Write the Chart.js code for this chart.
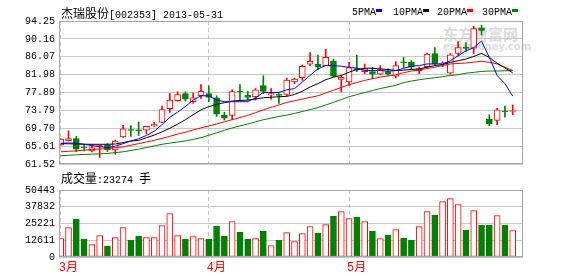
<!DOCTYPE html>
<html lang="zh-CN">
<head>
<meta charset="UTF-8">
<title>杰瑞股份 日K线</title>
<script src="https://cdn.jsdelivr.net/npm/chart.js"></script>
<style>
  html, body { margin: 0; padding: 0; background: #fff; }
  #wrap { position: relative; width: 578px; height: 276px; overflow: hidden;
          font-family: "Liberation Mono", "Noto Sans CJK SC", monospace; font-size: 10px; color: #000; }
  canvas { position: absolute; left: 0; display: block; }
  #kline { top: 0; }
  #vol { top: 176px; }
  .cjk { font-family: "Noto Sans CJK SC", sans-serif; font-size: 12px; }
  .txt { position: absolute; white-space: nowrap; line-height: 14px; }
  #title { left: 61px; top: 6px; }
  #volTitle { left: 61px; top: 171px; }
  .key { position: absolute; top: 6px; white-space: nowrap; line-height: 14px; }
  .key i { display: inline-block; width: 6px; height: 3px; vertical-align: 3px; }
  #wm { position: absolute; left: 443px; top: 25px; color: #dcdcdc; font-family: "Noto Sans CJK SC", sans-serif; }
  #wm .a { font-size: 15px; font-weight: bold; line-height: 17px; }
  #wm .b { font-size: 10px; font-weight: bold; line-height: 9px; font-family: "DejaVu Sans", sans-serif; }
</style>
</head>
<body>
<div id="wrap">
  <div id="wm"><div class="a">东方财富网</div><div class="b">eastmoney.com</div></div>
  <canvas id="kline" width="578" height="174"></canvas>
  <canvas id="vol" width="578" height="100"></canvas>
  <div id="title" class="txt"><span class="cjk">杰瑞股份</span>[002353] 2013-05-31</div>
  <span class="key" style="left:352px">5PMA<i style="background:#0000ff"></i></span>
  <span class="key" style="left:393px">10PMA<i style="background:#000000"></i></span>
  <span class="key" style="left:437px">20PMA<i style="background:#ff0000"></i></span>
  <span class="key" style="left:482px">30PMA<i style="background:#008000"></i></span>
  <div id="volTitle" class="txt"><span class="cjk">成交量</span>:23274 <span class="cjk">手</span></div>
</div>

<script>
  // daily prices, 2013-03 .. 2013-05-31
  const opens = [65.89, 66.85, 67.31, 65.4, 64.54, 65.43, 65.8, 64.76, 67.69, 69.4,
    69.35, 69.26, 70.23, 71.06, 74.21, 76.02, 77.66, 75.79, 77.14, 77.66,
    76.69, 72.71, 72.63, 78.2, 77.21, 76.91, 79.46, 77.28, 77.45, 77.43,
    80.29, 81.26, 84.35, 84.41, 84.03, 85.09, 80.88, 80.29, 83.36, 82.68,
    82.68, 82.09, 82.68, 81.64, 84.9, 84.8, 82.9, 83.81, 86.82, 84.45,
    82.32, 86.82, 88.3, 88.02, 92.67, 71.81, 71.51, 73.65, 73.55];
  const highs = [67.3, 69.11, 67.83, 65.9, 65.89, 65.89, 66.18, 67.01, 70.39, 70.3,
    71.13, 70.2, 71.06, 74.8, 77.66, 78.04, 78.04, 77.81, 79.68, 79.39,
    77.14, 73.38, 78.49, 79.68, 78.18, 78.78, 81.71, 78.78, 77.66, 81.19,
    81.19, 84.19, 87.05, 86.44, 87.79, 85.54, 81.64, 84.8, 86.44, 84.41,
    83.67, 84.03, 83.29, 84.95, 85.92, 85.16, 83.7, 86.9, 88.17, 84.9,
    86.8, 89.52, 89.3, 93.04, 93.27, 72.78, 74.28, 74.8, 75.03];
  const lows = [65.8, 66.8, 64.31, 64.5, 64.31, 63.03, 64.38, 63.77, 67.6, 67.91,
    68.05, 68.43, 70.1, 71.0, 73.32, 75.9, 75.93, 75.41, 76.53, 75.79,
    72.41, 71.58, 71.65, 76.08, 76.15, 76.15, 77.66, 76.38, 75.41, 77.14,
    79.91, 80.65, 84.03, 83.13, 84.0, 81.42, 78.04, 79.53, 82.68, 82.16,
    81.04, 81.94, 81.78, 81.19, 83.6, 83.29, 82.2, 83.7, 84.26, 83.81,
    82.1, 86.28, 87.27, 86.82, 91.01, 70.3, 70.52, 72.26, 72.78];
  const closes = [67.24, 67.31, 64.9, 65.2, 65.28, 65.73, 64.76, 66.78, 69.56, 69.2,
    69.15, 70.16, 70.61, 73.99, 76.15, 77.43, 76.38, 76.69, 78.18, 76.76,
    72.93, 72.03, 78.11, 78.0, 76.76, 78.49, 78.11, 77.66, 77.2, 80.74,
    80.97, 83.9, 85.02, 83.81, 85.92, 81.64, 81.33, 83.58, 83.06, 83.29,
    82.09, 83.13, 82.09, 84.03, 84.7, 83.67, 83.3, 86.66, 84.41, 84.65,
    86.52, 88.17, 88.0, 92.52, 92.07, 70.75, 73.9, 73.45, 73.75];
  const volumes = [13800, 22100, 28360, 13300, 9290, 16060, 8030, 14560, 22100, 12550,
    15560, 14560, 14560, 23600, 32630, 16060, 13300, 15310, 13800, 13300,
    23090, 15560, 26600, 18570, 13300, 13800, 19330, 8530, 12550, 18320,
    11550, 17570, 22840, 17820, 24350, 30620, 34140, 28870, 29870, 26600,
    19330, 13800, 16320, 20580, 14060, 12550, 22840, 34140, 31380, 41670,
    43930, 39410, 20080, 34890, 23850, 23850, 31120, 23850, 19830];

  // moving averages as drawn
  const ma5 = [66.26, 66.33, 66.26, 66.03, 65.73, 65.51, 65.28, 65.58, 66.18, 66.78,
    67.31, 68.06, 69.03, 70.53, 72.2, 73.38, 74.66, 76.16, 77.13, 77.13,
    76.16, 75.78, 75.78, 75.78, 75.78, 76.68, 77.88, 77.88, 77.88, 78.5,
    78.78, 80.28, 81.79, 83.29, 84.04, 84.04, 83.89, 83.66, 83.44, 82.91,
    82.91, 82.91, 82.76, 82.91, 83.4, 83.89, 84.04, 84.42, 84.42, 84.42,
    85.17, 86.29, 87.42, 88.17, 89.67, 85.92, 81.79, 79.91, 77.06];
  const ma10 = [66.18, 66.15, 66.1, 66.05, 66.03, 66.03, 66.03, 66.1, 66.41, 66.78,
    66.93, 67.53, 68.13, 68.88, 69.7, 70.65, 71.66, 72.8, 73.91, 74.66,
    75.18, 75.55, 75.93, 76.05, 76.16, 76.4, 76.68, 76.8, 76.91, 77.0,
    77.43, 78.18, 79.16, 79.91, 80.81, 81.41, 81.79, 82.54, 83.14, 83.44,
    83.44, 83.29, 83.14, 82.91, 83.0, 83.15, 83.29, 83.67, 84.04, 84.27,
    84.79, 85.17, 85.54, 86.14, 86.82, 85.92, 84.57, 83.52, 82.39];
  const ma20 = [64.31, 64.42, 64.53, 64.68, 64.83, 64.95, 65.06, 65.25, 65.43, 65.8,
    66.18, 66.55, 66.93, 67.38, 67.85, 68.35, 68.81, 69.3, 69.78, 70.23,
    70.68, 71.17, 71.66, 72.15, 72.63, 73.27, 73.91, 74.47, 75.03, 75.6,
    76.0, 76.38, 76.75, 77.13, 77.77, 78.41, 79.05, 79.68, 80.17, 80.66,
    81.03, 81.41, 81.67, 81.93, 82.4, 82.8, 83.06, 83.37, 83.67, 84.05,
    84.42, 84.53, 84.64, 84.83, 85.02, 84.79, 84.42, 83.67, 82.92];
  const ma30 = [63.41, 63.52, 63.63, 63.7, 63.78, 63.85, 63.93, 64.12, 64.31, 64.61,
    64.91, 65.28, 65.66, 66.03, 66.3, 66.55, 66.78, 67.15, 67.53, 68.1,
    68.66, 69.22, 69.78, 70.23, 70.68, 71.17, 71.66, 72.03, 72.41, 72.7,
    73.1, 73.53, 73.98, 74.43, 75.03, 75.63, 76.27, 76.91, 77.4, 77.88,
    78.33, 78.78, 79.15, 79.53, 80.15, 80.5, 80.81, 81.05, 81.26, 81.5,
    81.79, 81.95, 82.3, 82.5, 82.7, 82.8, 82.8, 82.85, 82.9];

  const monthStarts = [0, 19, 37];
  const monthLabels = ['3月', '4月', '5月'];
  const priceTicks = [61.52, 65.61, 69.70, 73.79, 77.89, 81.98, 86.07, 90.16, 94.25];
  const volumeTicks = [0, 12611, 25221, 37832, 50443];

  const RED = '#ff0000', GREEN = '#008000';
  const up = closes.map((c, i) => c >= opens[i]);
  const edge = up.map(u => u ? RED : GREEN);
  const fill = up.map(u => u ? '#ffffff' : GREEN);
  const pts = arr => arr.map((v, i) => ({x: i, y: v}));
  const tickFont = {family: '"Liberation Mono", "Noto Sans CJK SC", monospace', size: 10};

  const frame = {
    id: 'frame',
    afterDraw(chart) {
      const {ctx, chartArea: a} = chart;
      ctx.save();
      ctx.strokeStyle = '#a8a8a8';
      ctx.lineWidth = 1;
      ctx.strokeRect(a.left + 0.5, a.top + 0.5, a.width - 1, a.height - 1);
      ctx.restore();
    }
  };

  function xAxis(showLabels) {
    return {
      type: 'linear',
      offset: false,
      min: -0.22,
      max: 59.32,
      afterBuildTicks: ax => { ax.ticks = monthStarts.map(v => ({value: v})); },
      afterFit: ax => { ax.height = showLabels ? 19 : 0; },
      grid: {color: '#c8c8c8', drawTicks: false, offset: false},
      border: {display: false, dash: [4, 3]},
      ticks: {
        display: showLabels,
        color: RED,
        align: 'start',
        labelOffset: -2,
        padding: 4,
        autoSkip: false,
        maxRotation: 0,
        font: {family: '"Liberation Mono", "Noto Sans CJK SC", monospace', size: 12},
        callback: v => monthLabels[monthStarts.indexOf(v)]
      }
    };
  }

  function yAxis(min, max, ticks, fmt) {
    return {
      min: min,
      max: max,
      afterBuildTicks: ax => { ax.ticks = ticks.map(v => ({value: v})); },
      afterFit: ax => { ax.width = 59; },
      grid: {color: '#c8c8c8', drawTicks: false},
      border: {display: false},
      ticks: {color: '#000', padding: 4, font: tickFont, callback: fmt}
    };
  }

  const maLine = (data, color) => ({
    type: 'line', data: pts(data), borderColor: color, borderWidth: 1,
    pointRadius: 0, tension: 0, fill: false
  });

  new Chart(document.getElementById('kline'), {
    type: 'bar',
    data: {
      datasets: [
        maLine(ma5, '#0000ff'),
        maLine(ma10, '#000000'),
        maLine(ma20, RED),
        maLine(ma30, GREEN),
        {
          // candle bodies
          data: opens.map((o, i) => ({x: i, y: [o, closes[i]]})),
          backgroundColor: fill,
          borderColor: edge,
          borderWidth: 1,
          borderSkipped: false,
          barThickness: 6,
          grouped: false
        },
        {
          // wicks
          data: lows.map((l, i) => ({x: i, y: [l, highs[i]]})),
          backgroundColor: edge,
          borderWidth: 0,
          barThickness: 1,
          grouped: false
        }
      ]
    },
    options: {
      responsive: false,
      animation: false,
      layout: {padding: {left: 0, right: 55, top: 21, bottom: 8}},
      plugins: {legend: {display: false}, tooltip: {enabled: false}},
      scales: {
        x: xAxis(false),
        y: yAxis(61.52, 94.25, priceTicks, v => v.toFixed(2))
      }
    },
    plugins: [frame]
  });

  new Chart(document.getElementById('vol'), {
    type: 'bar',
    data: {
      datasets: [{
        data: pts(volumes),
        backgroundColor: fill,
        borderColor: edge,
        borderWidth: 1,
        borderSkipped: false,
        barThickness: 6,
        grouped: false
      }]
    },
    options: {
      responsive: false,
      animation: false,
      layout: {padding: {left: 0, right: 55, top: 14, bottom: 0}},
      plugins: {legend: {display: false}, tooltip: {enabled: false}},
      scales: {
        x: xAxis(true),
        y: yAxis(0, 50443, volumeTicks, v => String(v))
      }
    },
    plugins: [frame]
  });
</script>
</body>
</html>
